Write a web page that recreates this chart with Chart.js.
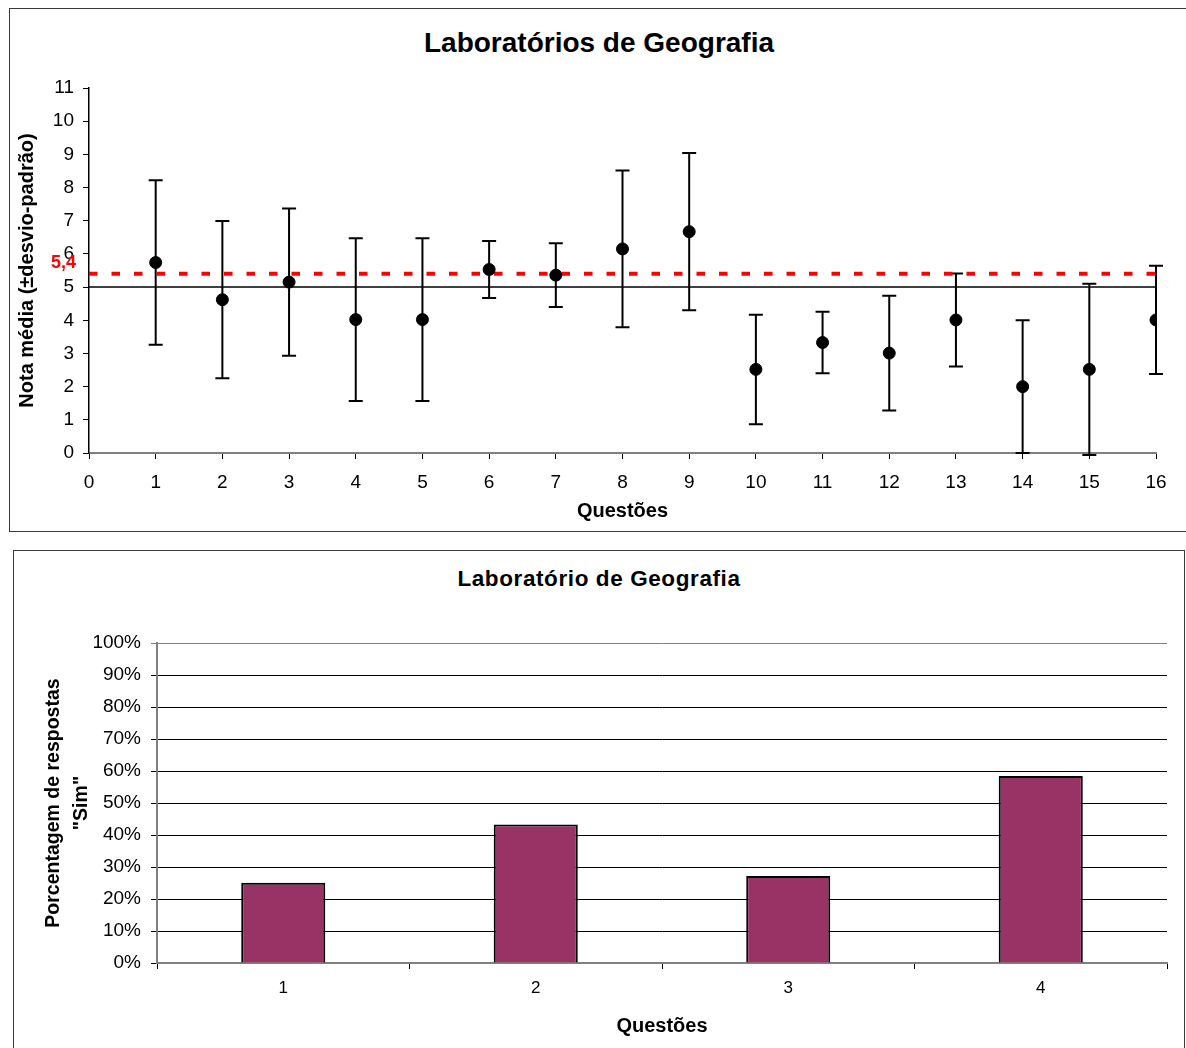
<!DOCTYPE html>
<html>
<head>
<meta charset="utf-8">
<script src="https://cdn.jsdelivr.net/npm/chart.js@4"></script>
<style>
  body { margin: 0; background: #fff; width: 1186px; height: 1048px; position: relative; overflow: hidden; font-family: Arial, "Liberation Sans", sans-serif; }
  .frame { position: absolute; border: 1.5px solid #3a3a3a; box-sizing: border-box; }
  .title { position: absolute; left: 0; width: 1198px; text-align: center; font-weight: bold; color: #000; }
  canvas { position: absolute; left: 0; }
</style>
</head>
<body>
<div class="frame" style="left:9px; top:8px; width:1200px; height:524px;"></div>
<div class="frame" style="left:13px; top:550px; width:1172px; height:520px;"></div>
<div class="title" style="top:27px; font-size:28px; line-height:32px;">Laboratórios de Geografia</div>
<div class="title" style="top:565px; font-size:22.5px; line-height:28px; letter-spacing:0.6px;">Laboratório de Geografia</div>
<canvas id="notes" width="1186" height="540" style="top:0; width:1186px; height:540px;"></canvas>
<canvas id="yes" width="1186" height="508" style="top:540px; width:1186px; height:508px;"></canvas>
<script>
// top chart: mean score per question with standard deviation
const questions = [1, 2, 3, 4, 5, 6, 7, 8, 9, 10, 11, 12, 13, 14, 15, 16];
const means = [5.74, 4.62, 5.15, 4.02, 4.02, 5.53, 5.36, 6.15, 6.67, 2.52, 3.33, 3.01, 4.01, 2.0, 2.52, 4.01];
const sds = [2.48, 2.37, 2.22, 2.45, 2.45, 0.86, 0.96, 2.36, 2.37, 1.65, 0.93, 1.73, 1.40, 2.0, 2.58, 1.63];
const classMean = 5.4;
const passMark = 5;

// bottom chart: share of "Sim" answers
const yesQuestions = ['1', '2', '3', '4'];
const yesShare = [25.1, 43.3, 27.2, 58.4];

Chart.defaults.font.family = 'Arial, "Liberation Sans", sans-serif';
Chart.defaults.color = '#000';

const errorBars = {
  id: 'errorBars',
  beforeDatasetsDraw(chart) {
    const { ctx, scales: { x, y } } = chart;
    ctx.save();
    ctx.strokeStyle = '#000';
    ctx.lineWidth = 2;
    questions.forEach((q, i) => {
      const px = x.getPixelForValue(q);
      const top = y.getPixelForValue(means[i] + sds[i]);
      const bottom = y.getPixelForValue(means[i] - sds[i]);
      ctx.beginPath();
      ctx.moveTo(px, top);
      ctx.lineTo(px, bottom);
      ctx.moveTo(px - 7, top);
      ctx.lineTo(px + 7, top);
      ctx.moveTo(px - 7, bottom);
      ctx.lineTo(px + 7, bottom);
      ctx.stroke();
    });
    ctx.restore();
  },
  afterDraw(chart) {
    const { ctx, scales: { y } } = chart;
    ctx.save();
    ctx.fillStyle = '#ff0000';
    ctx.font = 'bold 18px Arial, "Liberation Sans", sans-serif';
    ctx.textAlign = 'right';
    ctx.textBaseline = 'middle';
    ctx.fillText(String(classMean).replace('.', ','), 76, y.getPixelForValue(classMean) - 11);
    ctx.restore();
  }
};

new Chart(document.getElementById('notes'), {
  type: 'scatter',
  data: {
    datasets: [
      {
        data: questions.map((q, i) => ({ x: q, y: means[i] })),
        backgroundColor: '#000',
        borderColor: '#000',
        pointRadius: 6,
        pointHoverRadius: 6
      },
      {
        type: 'line',
        data: [{ x: 0, y: classMean }, { x: 16, y: classMean }],
        borderColor: '#ff0000',
        borderWidth: 4,
        borderDash: [8.5, 14],
        pointRadius: 0
      },
      {
        type: 'line',
        data: [{ x: 0, y: passMark }, { x: 16, y: passMark }],
        borderColor: '#000',
        borderWidth: 1.5,
        pointRadius: 0
      }
    ]
  },
  options: {
    responsive: false,
    animation: false,
    layout: { padding: { top: 88, right: 30, left: 0, bottom: 0 } },
    plugins: { legend: { display: false }, tooltip: { enabled: false }, title: { display: false } },
    scales: {
      x: {
        type: 'linear',
        min: 0,
        max: 16,
        ticks: { stepSize: 1, font: { size: 19 }, padding: 12 },
        grid: { drawOnChartArea: false, tickLength: 6, color: '#000' },
        border: { color: '#808080', width: 2 },
        title: { display: true, text: 'Questões', font: { size: 20, weight: 'bold' }, padding: { bottom: 17 } },
        afterFit(s) { s.height = 87; }
      },
      y: {
        min: 0,
        max: 11,
        ticks: { stepSize: 1, font: { size: 19 }, padding: 9 },
        grid: { drawOnChartArea: false, tickLength: 6, color: '#000' },
        border: { color: '#000', width: 1.5 },
        title: { display: true, text: 'Nota média (±desvio-padrão)', font: { size: 20, weight: 'bold' }, padding: { top: 15 } },
        afterFit(s) { s.width = 89; }
      }
    }
  },
  plugins: [errorBars]
});

new Chart(document.getElementById('yes'), {
  type: 'bar',
  data: {
    labels: yesQuestions,
    datasets: [{
      data: yesShare,
      backgroundColor: '#993366',
      borderColor: '#000',
      borderWidth: 2,
      barPercentage: 0.333,
      categoryPercentage: 1
    }]
  },
  options: {
    responsive: false,
    animation: false,
    layout: { padding: { top: 103, right: 19, left: 0, bottom: 0 } },
    plugins: { legend: { display: false }, tooltip: { enabled: false }, title: { display: false } },
    scales: {
      x: {
        ticks: { font: { size: 17 }, padding: 9 },
        grid: { offset: true, drawOnChartArea: false, tickLength: 6, color: '#000' },
        border: { color: '#808080', width: 2 },
        title: { display: true, text: 'Questões', font: { size: 20, weight: 'bold' }, padding: { bottom: 10 } },
        afterFit(s) { s.height = 85; }
      },
      y: {
        min: 0,
        max: 100,
        ticks: { stepSize: 10, font: { size: 19 }, padding: 10, callback: v => v + '%' },
        grid: { color: (c) => c.tick && c.tick.value === 100 ? '#808080' : '#000', tickLength: 6, lineWidth: 1 },
        border: { color: '#808080', width: 2 },
        title: {
          display: true,
          text: ['Porcentagem de respostas', '"Sim"'],
          font: { size: 19.5, weight: 'bold', lineHeight: '28px' },
          padding: { top: 40 }
        },
        afterFit(s) { s.width = 157; }
      }
    }
  }
});
</script>
</body>
</html>
